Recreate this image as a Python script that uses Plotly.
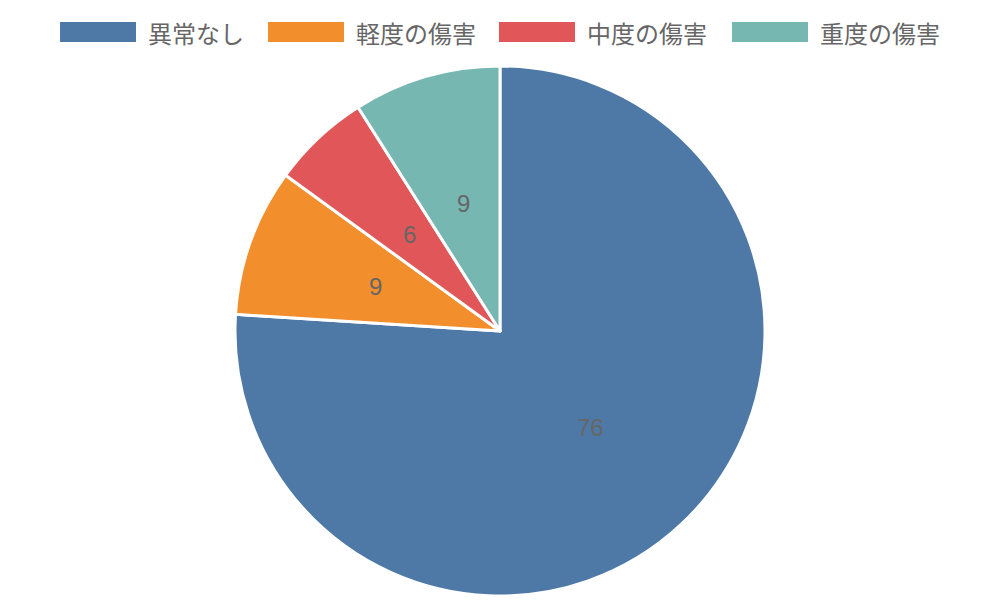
import math
import plotly.graph_objects as go

labels = ['異常なし', '軽度の傷害', '中度の傷害', '重度の傷害']
values = [76, 9, 6, 9]
colors = ['#4e79a7', '#f28e2b', '#e15759', '#76b7b2']

W, H = 1000, 600
OFF = 8  # page body margin in the browser

# pie centre and radius (in page pixels)
cx, cy, R = 500 - OFF, 331 - OFF, 265

fig = go.Figure(go.Pie(
    labels=labels, values=values, sort=False, direction='clockwise', rotation=0,
    marker=dict(colors=colors, line=dict(color='white', width=3)),
    textinfo='none',
    domain=dict(x=[(cx - R) / W, (cx + R) / W], y=[1 - (cy + R) / H, 1 - (cy - R) / H]),
    showlegend=False, hoverinfo='label+value+percent',
))

# value labels at half radius, like the original
total = sum(values)
acc = 0
for v in values:
    mid = (acc + v / 2) / total * 2 * math.pi
    acc += v
    x = cx + 0.5 * R * math.sin(mid)
    y = cy - 0.5 * R * math.cos(mid)
    fig.add_annotation(xref='paper', yref='paper', x=x / W, y=1 - y / H,
                       text=str(v), showarrow=False, xanchor='center', yanchor='middle',
                       font=dict(family='Liberation Sans, Arial', size=24, color='#666666'))

# legend drawn by hand so the swatches are wide rectangles
sw_x = [60, 268, 499, 732]
sw_w = 76
for x0, lab, c in zip(sw_x, labels, colors):
    x0 = x0 - OFF
    fig.add_shape(type='rect', xref='paper', yref='paper',
                  x0=x0 / W, x1=(x0 + sw_w) / W, y0=1 - (42 - OFF) / H, y1=1 - (22 - OFF) / H,
                  fillcolor=c, line=dict(width=0))
    fig.add_annotation(xref='paper', yref='paper', x=(x0 + sw_w + 10) / W, y=1 - (32 - OFF) / H,
                       text=lab, showarrow=False, xanchor='left', yanchor='middle',
                       font=dict(family='Noto Sans CJK JP', size=24, color='#666666'))

fig.update_layout(
    width=W, height=H,
    margin=dict(l=0, r=0, t=0, b=0),
    paper_bgcolor='white', plot_bgcolor='white',
)

fig.write_html("out.html")
